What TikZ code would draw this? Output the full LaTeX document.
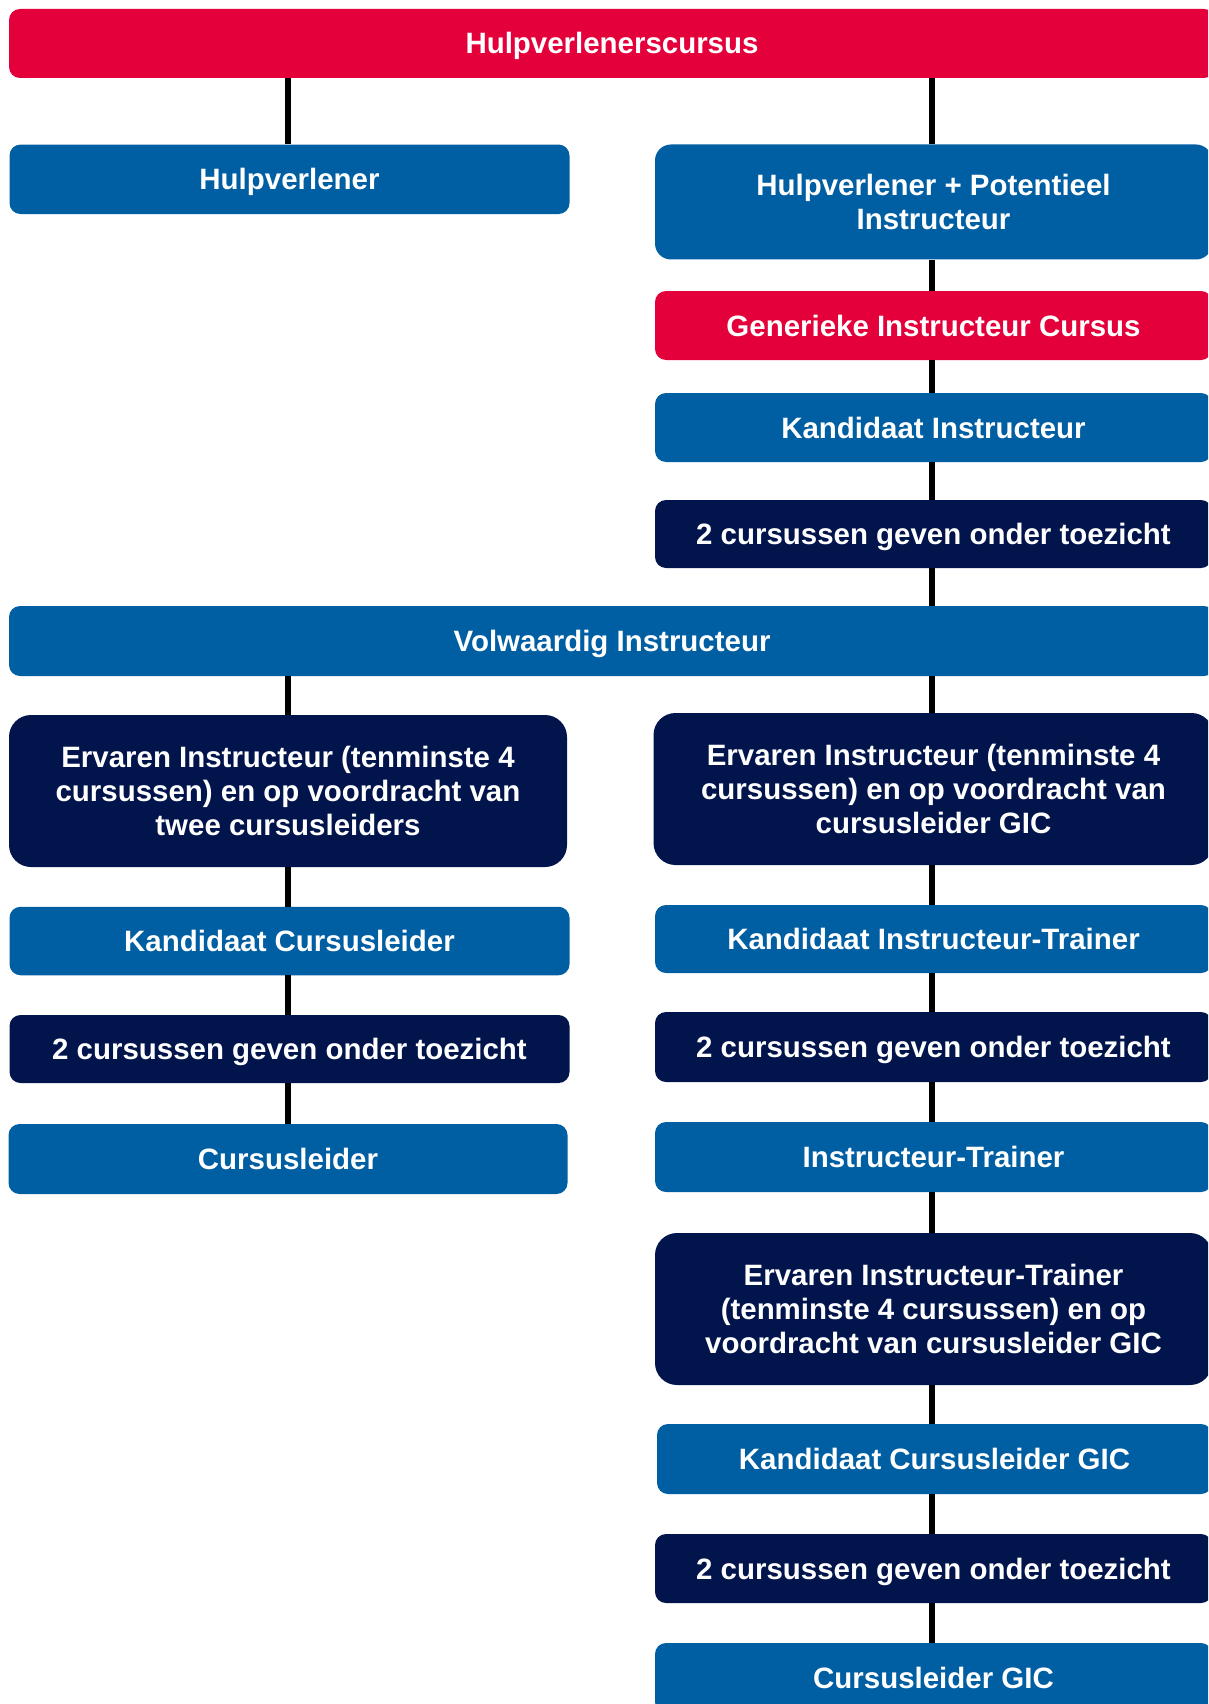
\documentclass[tikz,border=0pt]{standalone}
\usepackage{fontspec}
\setmainfont{Liberation Sans}
\definecolor{cred}{RGB}{228,0,58}
\definecolor{cblue}{RGB}{0,94,162}
\definecolor{cnavy}{RGB}{1,20,76}
\begin{document}
\begin{tikzpicture}[x=1pt,y=-1pt,
  box/.style={rounded corners=11pt, text=white, align=center, inner sep=0pt,
    font=\fontsize{29.45}{34}\selectfont\bfseries},
  one/.style={text height=21pt, text depth=0pt},
  redbox/.style={box, one, fill=cred},
  bluebox/.style={box, one, fill=cblue},
  navybox/.style={box, one, fill=cnavy},
  big/.style={rounded corners=22pt, text height=, text depth=},
  conn/.style={line width=5.4pt, black}]
\useasboundingbox (0,0) rectangle (1208,1704);
\clip (0,0) rectangle (1208,1704);
\node[redbox, minimum width=1206pt, minimum height=69pt] (top) at (612,43.5) {Hulpverlenerscursus};
\node[bluebox, minimum width=560pt, minimum height=69.5pt] (hv) at (289.5,179.3) {Hulpverlener};
\node[bluebox, big, rounded corners=16pt, minimum width=557pt, minimum height=115pt] (hppi) at (933.5,202) {Hulpverlener + Potentieel\\Instructeur};
\node[redbox, minimum width=557pt, minimum height=69pt] (gic) at (933.5,325.5) {Generieke Instructeur Cursus};
\node[bluebox, minimum width=557pt, minimum height=69pt] (ki) at (933.5,427.5) {Kandidaat Instructeur};
\node[navybox, minimum width=557pt, minimum height=68pt] (c1) at (933.5,534) {2 cursussen geven onder toezicht};
\node[bluebox, minimum width=1206pt, minimum height=70pt] (vi) at (612,641) {Volwaardig Instructeur};
\node[navybox, big, minimum width=558pt, minimum height=152pt] (ervL) at (288,791) {Ervaren Instructeur (tenminste 4\\cursussen) en op voordracht van\\twee cursusleiders};
\node[navybox, big, minimum width=560pt, minimum height=152pt] (ervR) at (933.5,789) {Ervaren Instructeur (tenminste 4\\cursussen) en op voordracht van\\cursusleider GIC};
\node[bluebox, minimum width=560pt, minimum height=68.5pt] (kcl) at (289.5,941) {Kandidaat Cursusleider};
\node[bluebox, minimum width=557pt, minimum height=68pt] (kit) at (933.5,939) {Kandidaat Instructeur-Trainer};
\node[navybox, minimum width=560pt, minimum height=68pt] (c2L) at (289.5,1049) {2 cursussen geven onder toezicht};
\node[navybox, minimum width=557pt, minimum height=70pt] (c2R) at (933.5,1047) {2 cursussen geven onder toezicht};
\node[bluebox, minimum width=559pt, minimum height=70pt] (cl) at (288,1159) {Cursusleider};
\node[bluebox, minimum width=557pt, minimum height=70pt] (it) at (933.5,1157) {Instructeur-Trainer};
\node[navybox, big, minimum width=557pt, minimum height=152pt] (eit) at (933.5,1309) {Ervaren Instructeur-Trainer\\(tenminste 4 cursussen) en op\\voordracht van cursusleider GIC};
\node[bluebox, minimum width=555pt, minimum height=70pt] (kclg) at (934.5,1459) {Kandidaat Cursusleider GIC};
\node[navybox, minimum width=557pt, minimum height=69pt] (c3) at (933.5,1568.5) {2 cursussen geven onder toezicht};
\node[bluebox, minimum width=557pt, minimum height=70pt] (clg) at (933.5,1678) {Cursusleider GIC};
% connectors
\coordinate (lx) at (288,0);
\coordinate (rx) at (932,0);
\draw[conn] (lx |- top.south) -- (lx |- hv.north);
\draw[conn] (rx |- top.south) -- (rx |- hppi.north);
\draw[conn] (rx |- hppi.south) -- (rx |- gic.north);
\draw[conn] (rx |- gic.south) -- (rx |- ki.north);
\draw[conn] (rx |- ki.south) -- (rx |- c1.north);
\draw[conn] (rx |- c1.south) -- (rx |- vi.north);
\draw[conn] (lx |- vi.south) -- (lx |- ervL.north);
\draw[conn] (rx |- vi.south) -- (rx |- ervR.north);
\draw[conn] (lx |- ervL.south) -- (lx |- kcl.north);
\draw[conn] (lx |- kcl.south) -- (lx |- c2L.north);
\draw[conn] (lx |- c2L.south) -- (lx |- cl.north);
\draw[conn] (rx |- ervR.south) -- (rx |- kit.north);
\draw[conn] (rx |- kit.south) -- (rx |- c2R.north);
\draw[conn] (rx |- c2R.south) -- (rx |- it.north);
\draw[conn] (rx |- it.south) -- (rx |- eit.north);
\draw[conn] (rx |- eit.south) -- (rx |- kclg.north);
\draw[conn] (rx |- kclg.south) -- (rx |- c3.north);
\draw[conn] (rx |- c3.south) -- (rx |- clg.north);
\end{tikzpicture}
\end{document}
